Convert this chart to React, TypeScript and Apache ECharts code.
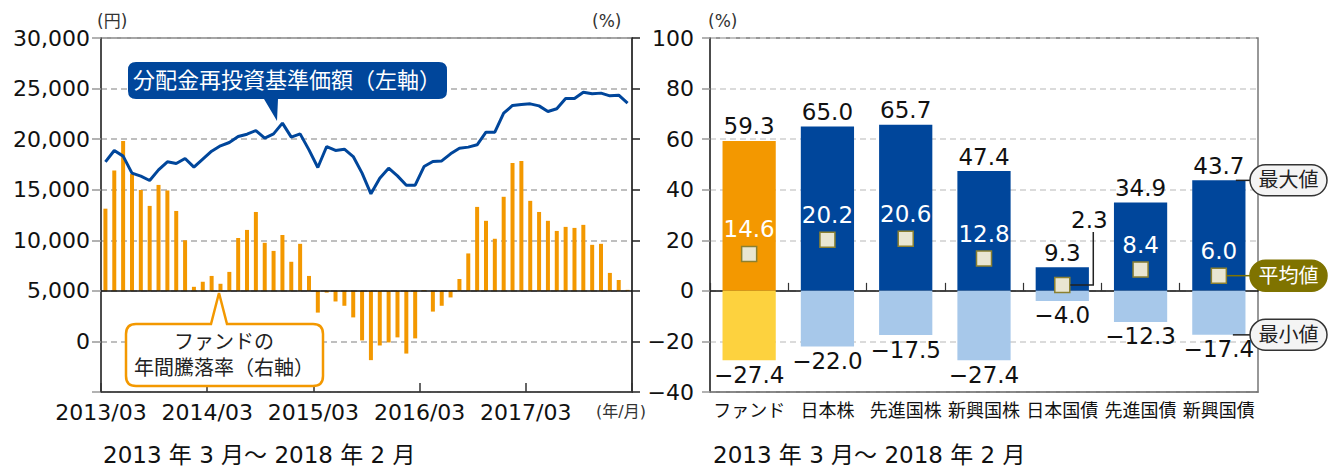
import React, { useEffect, useRef } from 'react';
import * as echarts from 'echarts';

// ---------- Left chart data ----------
const yearLabels = ['2013/03', '2014/03', '2015/03', '2016/03', '2017/03'];
const fundReturn = [
  32.5, 47.6, 59.3, 46.2, 39.9, 33.6, 41.9, 39.7, 31.6, 20.0,
  1.6, 3.6, 5.9, 2.8, 7.5, 20.9, 24.1, 31.2, 19.0, 15.8,
  22.1, 11.5, 18.6, 5.9, -8.6, -0.7, -4.2, -5.9, -10.5, -19.6,
  -27.4, -21.6, -20.4, -18.4, -24.8, -18.8, 0.3, -8.2, -5.9, -2.6,
  4.7, 14.8, 33.2, 27.7, 20.6, 37.2, 50.6, 51.4, 35.6, 31.2,
  27.7, 23.7, 25.3, 24.9, 26.1, 18.2, 18.6, 7.1, 4.3, 0.4,
];
const navValues = [
  17760, 18880, 18320, 16640, 16340, 15910, 16960, 17760, 17590, 18090,
  17230, 18020, 18810, 19340, 19670, 20260, 20490, 20850, 20100, 20520,
  21580, 20200, 20520, 18940, 17200, 19270, 18880, 19010, 18280, 16640,
  14590, 16140, 17130, 16370, 15450, 15450, 17290, 17790, 17850, 18550,
  19110, 19210, 19440, 20690, 20690, 22570, 23330, 23430, 23490, 23290,
  22730, 23000, 24020, 24020, 24640, 24480, 24550, 24280, 24350, 23560,
];

// ---------- Right chart data ----------
const categories = ['ファンド', '日本株', '先進国株', '新興国株', '日本国債', '先進国債', '新興国債'];
const maxVals = [59.3, 65.0, 65.7, 47.4, 9.3, 34.9, 43.7];
const minVals = [-27.4, -22.0, -17.5, -27.4, -4.0, -12.3, -17.4];
const avgVals = [14.6, 20.2, 20.6, 12.8, 2.3, 8.4, 6.0];

const FONT = '"DejaVu Sans", "Noto Sans CJK JP", sans-serif';
const ORANGE = '#F39800';
const YELLOW = '#FDD23E';
const BLUE = '#00469B';
const LIGHTBLUE = '#A7C8EA';
const OLIVE = '#7F7300';

const fmtMinus = (v: number) => (v < 0 ? '\u2212' + Math.abs(v).toFixed(1) : v.toFixed(1));
const commas = (v: number) => String(v).replace(/\B(?=(\d{3})+(?!\d))/g, ',');

function calloutPath(x: number, y: number, w: number, h: number, r: number,
  bx1: number, bx2: number, tx: number, ty: number, side: 'top' | 'bottom'): string {
  const R = x + w, B = y + h;
  if (side === 'bottom') {
    return `M${x + r},${y} L${R - r},${y} Q${R},${y} ${R},${y + r} L${R},${B - r} Q${R},${B} ${R - r},${B} ` +
      `L${bx2},${B} L${tx},${ty} L${bx1},${B} L${x + r},${B} Q${x},${B} ${x},${B - r} L${x},${y + r} Q${x},${y} ${x + r},${y} Z`;
  }
  return `M${x + r},${y} L${bx1},${y} L${tx},${ty} L${bx2},${y} L${R - r},${y} Q${R},${y} ${R},${y + r} L${R},${B - r} Q${R},${B} ${R - r},${B} ` +
    `L${x + r},${B} Q${x},${B} ${x},${B - r} L${x},${y + r} Q${x},${y} ${x + r},${y} Z`;
}

export default function App() {
  const ref = useRef<HTMLDivElement>(null);
  useEffect(() => {
    if (!ref.current) return;
    echarts.graphic.registerShape('calloutBlue', echarts.graphic.extendPath(
      calloutPath(128, 62, 319, 37, 8, 264, 278, 277, 121, 'bottom'), {}));
    echarts.graphic.registerShape('calloutOrange', echarts.graphic.extendPath(
      calloutPath(126, 324, 197, 62, 10, 211, 227, 219, 293, 'top'), {}));
    const chart = echarts.init(ref.current, null, { renderer: 'svg' });

    const option: any = {
      animation: false,
      textStyle: { fontFamily: FONT },
      grid: [
        { left: 101, top: 38, width: 531, height: 354, show: true, borderColor: '#777', borderWidth: 1.5 },
        { left: 710, top: 38, width: 548, height: 354, show: true, borderColor: '#777', borderWidth: 1.5 },
      ],
      xAxis: [
        {
          type: 'value', gridIndex: 0, min: 0, max: 60, interval: 12,
          axisLine: { show: true, onZero: false, lineStyle: { color: '#333', width: 1.5 } },
          axisTick: { show: true, inside: true, length: 9, lineStyle: { color: '#333', width: 1.5 } },
          axisLabel: {
            formatter: (v: number) => (v < 60 ? yearLabels[v / 12] : ''),
            fontSize: 22, color: '#111', fontFamily: FONT, margin: 9,
          },
          splitLine: { show: false },
        },
        {
          type: 'category', gridIndex: 1, data: categories, position: 'bottom',
          axisLine: { show: true, onZero: false, lineStyle: { color: '#777', width: 1.5 } },
          axisTick: { show: false },
          axisLabel: { fontSize: 18, color: '#111', margin: 9, interval: 0, fontFamily: FONT },
        },
        {
          type: 'category', gridIndex: 1, data: categories, position: 'bottom',
          axisLine: { show: true, onZero: true, lineStyle: { color: '#111', width: 1.5 } },
          axisTick: { show: true, inside: true, length: 8, lineStyle: { color: '#333', width: 1.2 } },
          axisLabel: { show: false },
        },
      ],
      yAxis: [
        {
          type: 'value', gridIndex: 0, position: 'left', min: -5000, max: 30000, interval: 5000,
          axisLine: { show: true, onZero: false, lineStyle: { color: '#333', width: 1.5 } },
          axisTick: { show: true, length: 9, lineStyle: { color: '#999', width: 1.5 } },
          axisLabel: {
            formatter: (v: number) => (v < 0 ? '' : commas(v)),
            fontSize: 22, color: '#111', margin: 11, fontFamily: FONT,
          },
          splitLine: { show: true, lineStyle: { color: '#aaa', width: 1.5, type: [6, 4] } },
        },
        {
          type: 'value', gridIndex: 0, position: 'right', min: -40, max: 100, interval: 20,
          axisLine: { show: true, onZero: false, lineStyle: { color: '#222', width: 1.5 } },
          axisTick: { show: true, length: 8, lineStyle: { color: '#222', width: 1.5 } },
          axisLabel: { show: false },
          splitLine: { show: false },
        },
        {
          type: 'value', gridIndex: 1, position: 'left', min: -40, max: 100, interval: 20,
          axisLine: { show: true, onZero: false, lineStyle: { color: '#333', width: 1.5 } },
          axisTick: { show: true, length: 8, lineStyle: { color: '#999', width: 1.5 } },
          axisLabel: {
            formatter: (v: number) => (v < 0 ? '\u2212' + Math.abs(v) : String(v)),
            fontSize: 22, color: '#111', margin: 16, fontFamily: FONT,
          },
          splitLine: { show: true, lineStyle: { color: '#d0d0d0', width: 1.5, type: [6, 4] } },
        },
      ],
      series: [
        {
          type: 'bar', xAxisIndex: 0, yAxisIndex: 1,
          data: fundReturn.map((v, i) => [i + 0.5, v]),
          barWidth: 4, itemStyle: { color: ORANGE },
          markLine: {
            silent: true, symbol: 'none', label: { show: false },
            lineStyle: { color: '#111', width: 1.5, type: 'solid' },
            data: [{ yAxis: 0 }],
          },
        },
        {
          type: 'line', xAxisIndex: 0, yAxisIndex: 0,
          data: navValues.map((v, i) => [i + 0.5, v]),
          symbol: 'none', lineStyle: { color: BLUE, width: 3 }, z: 5,
        },
        {
          type: 'bar', xAxisIndex: 1, yAxisIndex: 2, barWidth: '68%', barGap: '-100%',
          data: maxVals.map((v, i) => ({ value: v, itemStyle: { color: i === 0 ? ORANGE : BLUE } })),
          label: {
            show: true, position: 'top', distance: 3, fontSize: 23, color: '#111', fontFamily: FONT,
            formatter: (p: any) => fmtMinus(p.value),
          },
        },
        {
          type: 'bar', xAxisIndex: 1, yAxisIndex: 2, barWidth: '68%', barGap: '-100%',
          data: minVals.map((v, i) => ({ value: v, itemStyle: { color: i === 0 ? YELLOW : LIGHTBLUE } })),
          label: {
            show: true, position: 'bottom', distance: 3, fontSize: 23, color: '#111', fontFamily: FONT,
            formatter: (p: any) => fmtMinus(p.value),
          },
        },
        {
          type: 'scatter', xAxisIndex: 1, yAxisIndex: 2, symbol: 'rect', symbolSize: 15, z: 6,
          itemStyle: { color: '#E9E6D2', borderColor: '#8B8030', borderWidth: 1.5, opacity: 1 },
          data: avgVals.map((v, i) => (i === 4
            ? { value: v, label: { color: '#111', offset: [27, -40] } }
            : { value: v })),
          label: {
            show: true, position: 'top', distance: 5, fontSize: 23, color: '#fff', fontFamily: FONT,
            formatter: (p: any) => fmtMinus(p.value),
          },
        },
      ],
    };
    chart.setOption(option);

    const pt = (cat: number, v: number) =>
      chart.convertToPixel({ xAxisIndex: 1, yAxisIndex: 2 } as any, [cat, v]) as number[];
    const jgb = pt(4, avgVals[4]);
    const last = categories.length - 1;
    const pMax = pt(last, maxVals[last]);
    const pAvg = pt(last, avgVals[last]);
    const pMin = pt(last, minVals[last]);
    const pillX = 1250, pillW = 77, pillH = 31;
    const pill = (cy: number, label: string, fill: string, stroke: string, color: string) => ([
      {
        type: 'rect', shape: { x: pillX, y: cy - pillH / 2, width: pillW, height: pillH, r: pillH / 2 },
        style: { fill, stroke, lineWidth: 1.5 }, z: 30,
      },
      {
        type: 'text', x: pillX + pillW / 2, y: cy,
        style: { text: label, fill: color, fontSize: 20, fontFamily: FONT, align: 'center', verticalAlign: 'middle' }, z: 31,
      },
    ]);
    const txt = (x: number, y: number, text: string, size: number, color = '#222', align = 'left') => ({
      type: 'text', x, y, z: 40,
      style: { text, fill: color, fontSize: size, fontFamily: FONT, align, verticalAlign: 'middle' },
    });

    chart.setOption({
      graphic: [
        { type: 'calloutBlue', style: { fill: BLUE }, z: 20 },
        { type: 'calloutOrange', style: { fill: '#fff', stroke: ORANGE, lineWidth: 2.5 }, z: 20 },
        txt(287, 80, '分配金再投資基準価額（左軸）', 22, '#fff', 'center'),
        txt(224, 342, 'ファンドの', 20, '#222', 'center'),
        txt(224, 368, '年間騰落率（右軸）', 20, '#222', 'center'),
        txt(97, 21, '(円)', 17, '#333'),
        txt(592, 21, '(%)', 17, '#333'),
        txt(708, 21, '(%)', 17, '#333'),
        txt(596, 411, '(年/月)', 16, '#333'),
        txt(103, 455, '2013 年 3 月～ 2018 年 2 月', 23, '#111'),
        txt(713, 455, '2013 年 3 月～ 2018 年 2 月', 23, '#111'),
        {
          type: 'polyline', z: 9,
          shape: { points: [[jgb[0] + 8, jgb[1]], [jgb[0] + 31, jgb[1]], [jgb[0] + 31, jgb[1] - 53]] },
          style: { stroke: '#222', lineWidth: 1.5, fill: null },
        },
        { type: 'line', z: 9, shape: { x1: pMax[0] + 17, y1: pMax[1], x2: pillX, y2: pMax[1] }, style: { stroke: '#222', lineWidth: 1.5 } },
        { type: 'line', z: 9, shape: { x1: pAvg[0] + 8, y1: pAvg[1], x2: pillX, y2: pAvg[1] }, style: { stroke: OLIVE, lineWidth: 1.5 } },
        { type: 'line', z: 9, shape: { x1: pMin[0] + 14, y1: pMin[1], x2: pillX, y2: pMin[1] }, style: { stroke: '#222', lineWidth: 1.5 } },
        ...pill(pMax[1], '最大値', '#f4f4f4', '#333', '#222'),
        ...pill(pAvg[1], '平均値', OLIVE, OLIVE, '#fff'),
        ...pill(pMin[1], '最小値', '#f4f4f4', '#333', '#222'),
      ],
    });

    return () => chart.dispose();
  }, []);
  return (
    <div ref={ref} style={{ position: 'absolute', left: 0, top: 0, width: 1341, height: 468 }} />
  );
}
